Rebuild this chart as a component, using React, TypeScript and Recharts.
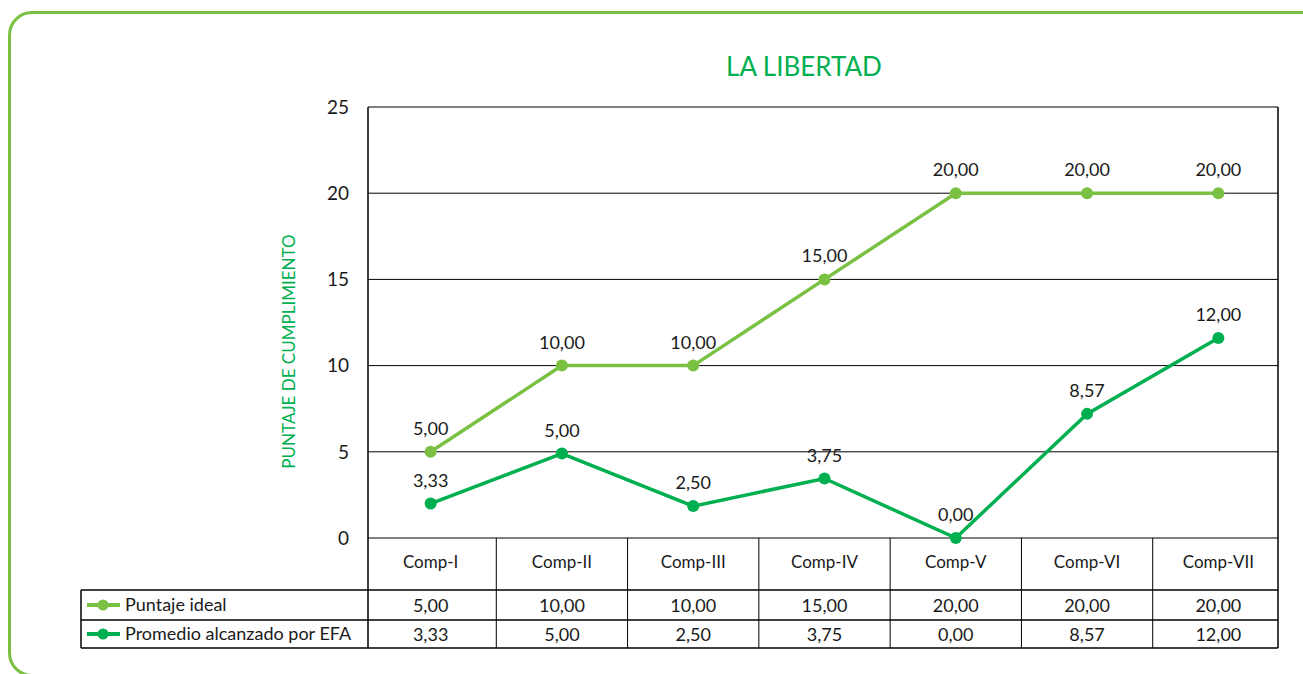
import React from 'react';
import {
  ComposedChart,
  Line,
  XAxis,
  YAxis,
  CartesianGrid,
  LabelList,
} from 'recharts';

// ---- data ----
const categories = ['Comp-I', 'Comp-II', 'Comp-III', 'Comp-IV', 'Comp-V', 'Comp-VI', 'Comp-VII'];
const idealValues = [5, 10, 10, 15, 20, 20, 20];
const idealLabels = ['5,00', '10,00', '10,00', '15,00', '20,00', '20,00', '20,00'];
// where the EFA points sit in the picture (labels/table show the stated values)
const efaValues = [2.0, 4.9, 1.85, 3.45, 0, 7.2, 11.6];
const efaLabels = ['3,33', '5,00', '2,50', '3,75', '0,00', '8,57', '12,00'];
const yTicks = [0, 5, 10, 15, 20, 25];

const seriesNames = ['Puntaje ideal', 'Promedio alcanzado por EFA'];

const data = categories.map((c, i) => ({
  category: c,
  ideal: idealValues[i],
  idealLabel: idealLabels[i],
  efa: efaValues[i],
  efaLabel: efaLabels[i],
}));

// ---- layout ----
const W = 1303;
const H = 674;
const PLOT_LEFT = 368;
const PLOT_RIGHT = 1278;
const PLOT_TOP = 107;
const PLOT_BOTTOM = 538;
const TABLE_LEFT = 81;
const TABLE_H = 110;
const ROW1 = 52; // category row height
const ROW2 = 82; // after first value row
const PAD_L = -3;
const PAD_R = -6;
const BAND = (PLOT_RIGHT - PLOT_LEFT - PAD_L - PAD_R) / categories.length;

const IDEAL_COLOR = '#7ac143';
const EFA_COLOR = '#00b050';
const TEXT = '#1a1a1a';
const FONT = 'Lato, "Noto Sans", sans-serif';

function TableTick(props: any) {
  const { x, y, payload, index } = props;
  const half = BAND / 2;
  const i = payload.index ?? index;
  return (
    <g fontFamily={FONT} fill={TEXT}>
      {i > 0 && (
        <line x1={x - half} x2={x - half} y1={y} y2={y + TABLE_H} stroke="#000" strokeWidth={1} />
      )}
      <text x={x} y={y + 30} textAnchor="middle" fontSize={17} fill={TEXT}>
        {payload.value}
      </text>
      <text x={x} y={y + 74} textAnchor="middle" fontSize={18} fill={TEXT}>
        {idealLabels[i]}
      </text>
      <text x={x} y={y + 103} textAnchor="middle" fontSize={18} fill={TEXT}>
        {efaLabels[i]}
      </text>
      {i === 0 && (
        <g>
          {[ROW1, ROW2, TABLE_H].map((dy) => (
            <line key={dy} x1={TABLE_LEFT} x2={PLOT_RIGHT} y1={y + dy} y2={y + dy} stroke="#000" strokeWidth={1.5} />
          ))}
          <line x1={TABLE_LEFT} x2={TABLE_LEFT} y1={y + ROW1} y2={y + TABLE_H} stroke="#000" strokeWidth={1.5} />
          <line x1={PLOT_LEFT} x2={PLOT_LEFT} y1={PLOT_TOP} y2={y + TABLE_H} stroke="#000" strokeWidth={1.5} />
          <line x1={PLOT_RIGHT} x2={PLOT_RIGHT} y1={PLOT_TOP} y2={y + TABLE_H} stroke="#000" strokeWidth={1.5} />
          {/* legend keys */}
          {[IDEAL_COLOR, EFA_COLOR].map((col, k) => {
            const cy = y + (k === 0 ? 67 : 96);
            return (
              <g key={col}>
                <line x1={TABLE_LEFT + 6} x2={TABLE_LEFT + 39} y1={cy} y2={cy} stroke={col} strokeWidth={4} />
                <circle cx={TABLE_LEFT + 22} cy={cy} r={5.5} fill={col} />
                <text x={TABLE_LEFT + 44} y={cy + 6} fontSize={18} fill={TEXT} textAnchor="start">
                  {seriesNames[k]}
                </text>
              </g>
            );
          })}
        </g>
      )}
    </g>
  );
}

export default function App() {
  return (
    <div style={{ position: 'absolute', left: 0, top: 0, width: W, height: H, overflow: 'hidden', background: '#fff' }}>
      {/* rounded green frame, bottom edge just off the page */}
      <div
        style={{
          position: 'absolute',
          left: 8,
          top: 11,
          width: 1340,
          height: 666,
          border: `3px solid ${IDEAL_COLOR}`,
          borderRadius: 24,
          boxSizing: 'border-box',
        }}
      />
      <div
        style={{
          position: 'absolute',
          left: 704,
          top: 50,
          width: 200,
          textAlign: 'center',
          fontFamily: FONT,
          fontSize: 26,
          lineHeight: '32px',
          color: EFA_COLOR,
        }}
      >
        LA LIBERTAD
      </div>
      <div style={{ position: 'absolute', left: 0, top: 0 }}>
        <ComposedChart
          width={W}
          height={H}
          data={data}
          margin={{ top: PLOT_TOP, right: W - PLOT_RIGHT, bottom: H - PLOT_BOTTOM - TABLE_H, left: PLOT_LEFT - 90 }}
        >
          <CartesianGrid vertical={false} stroke="#000" strokeWidth={1} horizontalValues={yTicks} />
          <XAxis
            dataKey="category"
            scale="band"
            padding={{ left: PAD_L, right: PAD_R }}
            axisLine={false}
            tickLine={false}
            tickSize={0}
            tickMargin={0}
            height={TABLE_H}
            interval={0}
            tick={<TableTick />}
          />
          <YAxis
            domain={[0, 25]}
            ticks={yTicks}
            width={90}
            axisLine={false}
            tickLine={false}
            tickSize={0}
            tickMargin={19}
            tick={{ fill: TEXT, fontSize: 19, fontFamily: FONT }}
            label={{
              value: 'PUNTAJE DE CUMPLIMIENTO',
              angle: -90,
              position: 'center',
              dx: -34,
              dy: 29,
              fill: EFA_COLOR,
              fontSize: 17,
              fontFamily: FONT,
            }}
          />
          <Line
            dataKey="ideal"
            stroke={IDEAL_COLOR}
            strokeWidth={3.5}
            dot={{ r: 6, fill: IDEAL_COLOR, stroke: IDEAL_COLOR, strokeWidth: 0 }}
            isAnimationActive={false}
          >
            <LabelList dataKey="idealLabel" position="top" offset={17} fill={TEXT} fontSize={18} fontFamily={FONT} />
          </Line>
          <Line
            dataKey="efa"
            stroke={EFA_COLOR}
            strokeWidth={3.5}
            dot={{ r: 6, fill: EFA_COLOR, stroke: EFA_COLOR, strokeWidth: 0 }}
            isAnimationActive={false}
          >
            <LabelList dataKey="efaLabel" position="top" offset={17} fill={TEXT} fontSize={18} fontFamily={FONT} />
          </Line>
        </ComposedChart>
      </div>
    </div>
  );
}
